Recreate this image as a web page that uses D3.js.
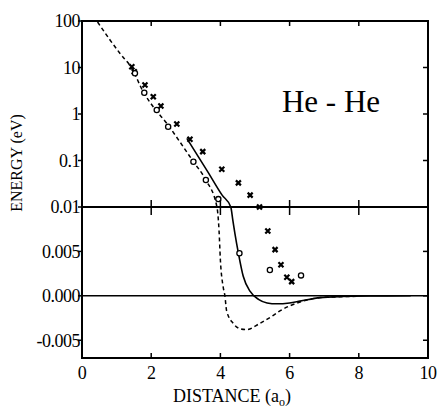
<!DOCTYPE html>
<html>
<head>
<meta charset="utf-8">
<script src="https://cdn.jsdelivr.net/npm/d3@7"></script>
<style>
  body { margin: 0; background: #fff; }
</style>
</head>
<body>
<svg id="chart" width="439" height="410"></svg>
<script>
// x ticks and the two y scales (log above 0.01, linear below)
let xTicks = [0, 2, 4, 6, 8, 10];
let logTicks = [100, 10, 1, 0.1, 0.01];
let logLabels = ["100", "10", "1", "0.1", "0.01"];
let linTicks = [0.005, 0, -0.005];
let linLabels = ["0.005", "0.000", "-0.005"];

// dashed curve
let dashX = [0.45, 0.8, 1.1, 1.44, 1.77, 2.1, 2.45, 2.8, 3.22, 3.58, 3.9, 3.96, 4.0, 4.08, 4.13, 4.18, 4.37, 4.57, 4.76, 5.14, 5.53, 5.72, 6.3, 6.9, 7.5, 8.0];
let dashY = [95, 40, 20, 9.6, 3.0, 1.3, 0.63, 0.27, 0.094, 0.038, 0.01, 0.0074, 0.004, 0.001, 0.0, -0.0017, -0.0031, -0.0037, -0.0038, -0.0031, -0.0022, -0.0017, -0.0007, -0.0002, -0.0001, -0.00005];

// solid curve
let solidX = [3.03, 3.65, 4.05, 4.3, 4.36, 4.42, 4.52, 4.66, 4.86, 5.1, 5.35, 5.63, 6.0, 6.3, 6.88, 7.5, 8.5, 9.5];
let solidY = [0.3, 0.055, 0.018, 0.01, 0.0085, 0.007, 0.0048, 0.0022, 0.0005, -0.0004, -0.0008, -0.0009, -0.0008, -0.0006, -0.0002, -0.00008, -0.00002, 0];

// cross markers
let crossX = [1.44, 1.51, 1.82, 2.06, 2.28, 2.74, 3.12, 3.49, 4.04, 4.52, 4.86, 5.13, 5.37, 5.58, 5.75, 5.92, 6.06];
let crossY = [10.4, 8.1, 4.2, 2.36, 1.49, 0.61, 0.286, 0.155, 0.065, 0.033, 0.018, 0.01, 0.0073, 0.0052, 0.0035, 0.0021, 0.0016];

// circle markers
let circX = [1.53, 1.80, 2.16, 2.49, 3.22, 3.58, 3.94, 4.55, 5.43, 6.33];
let circY = [7.5, 2.87, 1.22, 0.53, 0.094, 0.038, 0.0148, 0.0048, 0.0029, 0.0023];

let plotLeft = 82, plotRight = 428, plotTop = 21, plotMid = 207, plotBottom = 358;
let serif = "'Liberation Serif', 'Times New Roman', 'DejaVu Serif', serif";

let svg = d3.select("#chart").attr("font-family", serif);

let x = d3.scaleLinear().domain([0, 10]).range([plotLeft, plotRight]);
let yLog = d3.scaleLog().domain([0.01, 100]).range([plotMid, plotTop]);
let yLin = d3.scaleLinear().domain([-0.007, 0.01]).range([plotBottom, plotMid]);

function yPos(v) {
    return v >= 0.01 ? yLog(v) : yLin(v);
}

let zip = (xs, ys) => xs.map((d, i) => [d, ys[i]]);

let line = d3.line()
    .x(d => x(d[0]))
    .y(d => yPos(d[1]))
    .curve(d3.curveMonotoneX);

// zero line
svg.append("line")
    .attr("x1", plotLeft).attr("x2", plotRight)
    .attr("y1", yLin(0)).attr("y2", yLin(0))
    .attr("stroke", "#000").attr("stroke-width", 1.5);

// curves
svg.append("path")
    .datum(zip(dashX, dashY))
    .attr("d", line)
    .attr("fill", "none")
    .attr("stroke", "#000")
    .attr("stroke-width", 1.5)
    .attr("stroke-dasharray", "4,3");

svg.append("path")
    .datum(zip(solidX, solidY))
    .attr("d", line)
    .attr("fill", "none")
    .attr("stroke", "#000")
    .attr("stroke-width", 1.6);

// markers
svg.append("g").selectAll("path")
    .data(zip(crossX, crossY))
    .enter().append("path")
    .attr("transform", d => `translate(${x(d[0])},${yPos(d[1])})`)
    .attr("d", d3.symbol().type(d3.symbolX).size(18))
    .attr("fill", "none")
    .attr("stroke", "#000")
    .attr("stroke-width", 2.2);

svg.append("g").selectAll("circle")
    .data(zip(circX, circY))
    .enter().append("circle")
    .attr("cx", d => x(d[0]))
    .attr("cy", d => yPos(d[1]))
    .attr("r", 2.6)
    .attr("fill", "#fff")
    .attr("stroke", "#000")
    .attr("stroke-width", 1.3);

// frame and the 0.01 divider
svg.append("rect")
    .attr("x", plotLeft).attr("y", plotTop)
    .attr("width", plotRight - plotLeft).attr("height", plotBottom - plotTop)
    .attr("fill", "none").attr("stroke", "#000").attr("stroke-width", 2);

svg.append("line")
    .attr("x1", plotLeft).attr("x2", plotRight)
    .attr("y1", plotMid).attr("y2", plotMid)
    .attr("stroke", "#000").attr("stroke-width", 2.2);

// x ticks: top, middle (crossing), bottom
let inner = xTicks.slice(1, -1);
let ticks = svg.append("g").attr("stroke", "#000").attr("stroke-width", 1.5);
inner.forEach(t => {
    ticks.append("line").attr("x1", x(t)).attr("x2", x(t)).attr("y1", plotTop).attr("y2", plotTop + 5);
    ticks.append("line").attr("x1", x(t)).attr("x2", x(t)).attr("y1", plotMid - 7).attr("y2", plotMid + 8);
    ticks.append("line").attr("x1", x(t)).attr("x2", x(t)).attr("y1", plotBottom).attr("y2", plotBottom - 5);
});

// y ticks: outside on left, inside on right
let yTickPos = logTicks.map(yLog).concat(linTicks.map(yLin));
yTickPos.forEach(p => {
    ticks.append("line").attr("x1", plotLeft - 4).attr("x2", plotLeft).attr("y1", p).attr("y2", p);
    ticks.append("line").attr("x1", plotRight).attr("x2", plotRight - 5).attr("y1", p).attr("y2", p);
});

// tick labels
let labelSize = 18;
svg.append("g").selectAll("text")
    .data(logTicks)
    .enter().append("text")
    .attr("x", plotLeft - 2)
    .attr("y", d => yLog(d))
    .attr("dy", "0.35em")
    .attr("text-anchor", "end")
    .attr("font-family", serif)
    .style("font-size", labelSize + "px")
    .style("letter-spacing", "-0.5px")
    .text((d, i) => logLabels[i]);

svg.append("g").selectAll("text")
    .data(linTicks)
    .enter().append("text")
    .attr("x", plotLeft - 2)
    .attr("y", d => yLin(d))
    .attr("dy", "0.35em")
    .attr("text-anchor", "end")
    .attr("font-family", serif)
    .style("font-size", labelSize + "px")
    .style("letter-spacing", "-0.5px")
    .text((d, i) => linLabels[i]);

svg.append("g").selectAll("text")
    .data(xTicks)
    .enter().append("text")
    .attr("x", d => x(d))
    .attr("y", plotBottom + 21)
    .attr("text-anchor", "middle")
    .attr("font-family", serif)
    .style("font-size", labelSize + "px")
    .style("letter-spacing", "-0.5px")
    .text(d => d);

// axis titles
let xTitle = svg.append("text")
    .attr("x", 232)
    .attr("y", 402)
    .attr("text-anchor", "middle")
    .attr("font-family", serif)
    .style("font-size", "18px");
xTitle.append("tspan").text("DISTANCE (a");
xTitle.append("tspan").attr("dy", 4).style("font-size", "12px").text("o");
xTitle.append("tspan").attr("dy", -4).text(")");

svg.append("text")
    .attr("transform", `translate(22, 163) rotate(-90)`)
    .attr("text-anchor", "middle")
    .attr("font-family", serif)
    .style("font-size", "16px")
    .text("ENERGY (eV)");

svg.append("text")
    .attr("x", 331)
    .attr("y", 112)
    .attr("text-anchor", "middle")
    .attr("font-family", serif)
    .style("font-size", "31px")
    .text("He - He");
</script>
</body>
</html>
